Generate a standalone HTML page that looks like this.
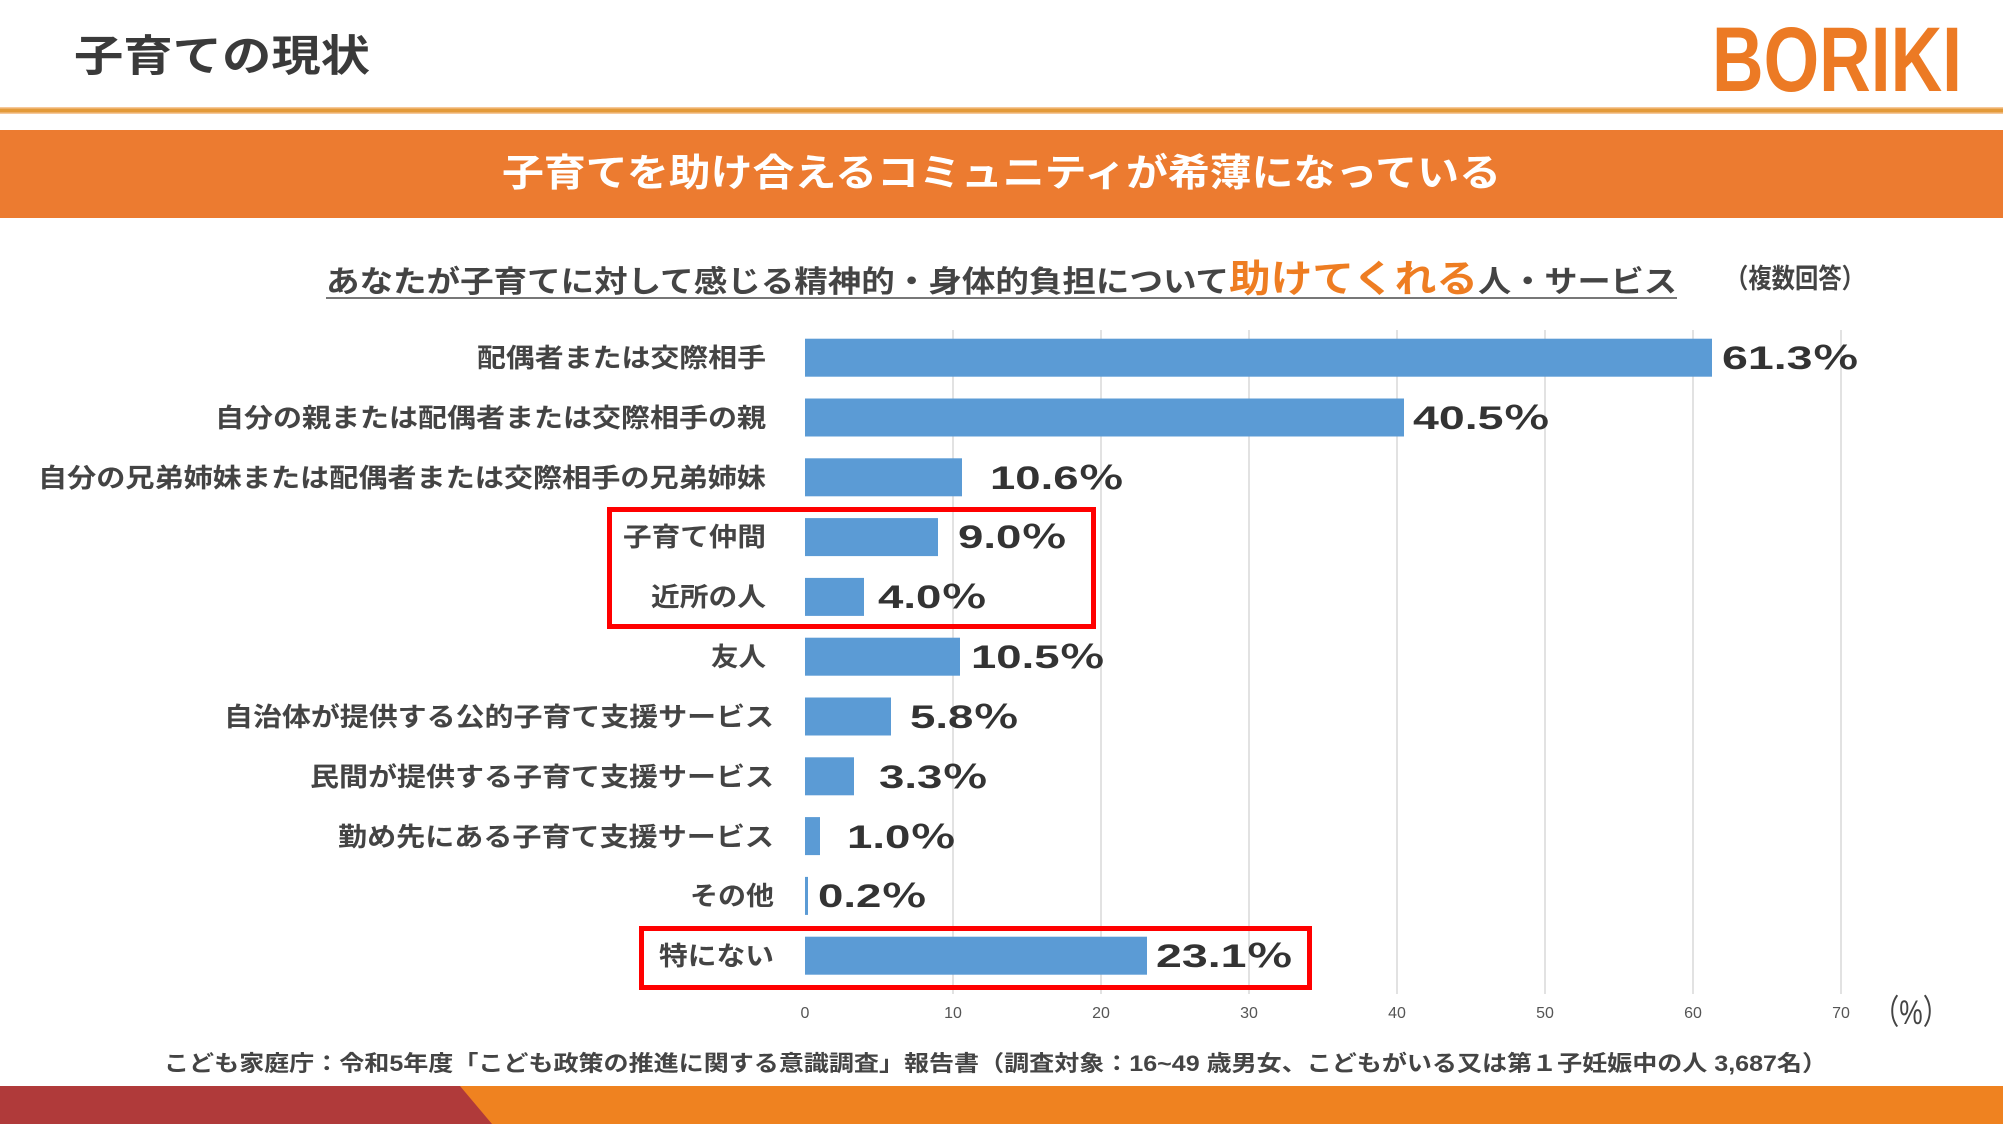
<!DOCTYPE html>
<html><head><meta charset="utf-8"><style>
html,body{margin:0;padding:0;background:#fff;}
svg{display:block;}
text{font-family:"Liberation Sans","Noto Sans CJK JP",sans-serif;}
</style></head><body>
<svg width="2003" height="1124" viewBox="0 0 2003 1124" xmlns="http://www.w3.org/2000/svg">
<rect width="2003" height="1124" fill="#fff"/>
<!-- title -->
<text x="74" y="71" font-size="43" font-weight="bold" fill="#3a3a3a" textLength="296" lengthAdjust="spacingAndGlyphs">子育ての現状</text>
<!-- logo -->
<text x="1712" y="91" font-size="92" font-weight="bold" fill="#ec7a24" textLength="250" lengthAdjust="spacingAndGlyphs">BORIKI</text>
<!-- lines -->
<rect x="0" y="107" width="2003" height="7" fill="#f6c89a"/>
<rect x="0" y="108.5" width="2003" height="4" fill="#e39a3a"/>
<rect x="0" y="130" width="2003" height="88" fill="#ec7b30"/>
<text x="502" y="186" font-size="38" font-weight="bold" fill="#fff" textLength="999" lengthAdjust="spacingAndGlyphs">子育てを助け合えるコミュニティが希薄になっている</text>
<!-- subtitle -->
<text x="326" y="292" font-size="30" font-weight="bold" fill="#444" textLength="903" lengthAdjust="spacingAndGlyphs">あなたが子育てに対して感じる精神的・身体的負担について</text>
<text x="1229" y="292" font-size="38" font-weight="bold" fill="#ee7d22" textLength="249" lengthAdjust="spacingAndGlyphs">助けてくれる</text>
<text x="1478" y="292" font-size="30" font-weight="bold" fill="#444" textLength="199" lengthAdjust="spacingAndGlyphs">人・サービス</text>
<rect x="326" y="297" width="1351" height="2" fill="#777"/>
<text x="1725" y="288" font-size="27" font-weight="bold" fill="#444" textLength="140" lengthAdjust="spacingAndGlyphs">（複数回答）</text>
<!-- gridlines -->
<g stroke="#d9d9d9" stroke-width="1.5">
<line x1="953" y1="330" x2="953" y2="994"/>
<line x1="1101" y1="330" x2="1101" y2="994"/>
<line x1="1249" y1="330" x2="1249" y2="994"/>
<line x1="1397" y1="330" x2="1397" y2="994"/>
<line x1="1545" y1="330" x2="1545" y2="994"/>
<line x1="1693" y1="330" x2="1693" y2="994"/>
<line x1="1841" y1="330" x2="1841" y2="994"/>
</g>
<!-- bars -->
<g fill="#5b9bd5">
<rect x="805" y="338.7" width="907" height="38"/>
<rect x="805" y="398.5" width="599" height="38"/>
<rect x="805" y="458.3" width="157" height="38"/>
<rect x="805" y="518.1" width="133" height="38"/>
<rect x="805" y="577.9" width="59" height="38"/>
<rect x="805" y="637.7" width="155" height="38"/>
<rect x="805" y="697.5" width="86" height="38"/>
<rect x="805" y="757.3" width="49" height="38"/>
<rect x="805" y="817.1" width="15" height="38"/>
<rect x="805" y="876.9" width="3" height="38"/>
<rect x="805" y="936.7" width="342" height="38"/>
</g>
<!-- category labels -->
<g font-size="26" font-weight="bold" fill="#444" text-anchor="end" lengthAdjust="spacingAndGlyphs">
<text x="766" y="367" textLength="289" lengthAdjust="spacingAndGlyphs">配偶者または交際相手</text>
<text x="766" y="427" textLength="551" lengthAdjust="spacingAndGlyphs">自分の親または配偶者または交際相手の親</text>
<text x="766" y="487" textLength="728" lengthAdjust="spacingAndGlyphs">自分の兄弟姉妹または配偶者または交際相手の兄弟姉妹</text>
<text x="766" y="546" textLength="143" lengthAdjust="spacingAndGlyphs">子育て仲間</text>
<text x="766" y="606" textLength="115" lengthAdjust="spacingAndGlyphs">近所の人</text>
<text x="766" y="666" textLength="55" lengthAdjust="spacingAndGlyphs">友人</text>
<text x="774" y="726" textLength="550" lengthAdjust="spacingAndGlyphs">自治体が提供する公的子育て支援サービス</text>
<text x="774" y="786" textLength="464" lengthAdjust="spacingAndGlyphs">民間が提供する子育て支援サービス</text>
<text x="774" y="846" textLength="436" lengthAdjust="spacingAndGlyphs">勤め先にある子育て支援サービス</text>
<text x="774" y="905" textLength="84" lengthAdjust="spacingAndGlyphs">その他</text>
<text x="774" y="965" textLength="115" lengthAdjust="spacingAndGlyphs">特にない</text>
</g>
<!-- values -->
<g font-size="32" font-weight="bold" fill="#333">
<text x="1722" y="369" textLength="137" lengthAdjust="spacingAndGlyphs">61.3％</text>
<text x="1413" y="429" textLength="137" lengthAdjust="spacingAndGlyphs">40.5％</text>
<text x="990" y="489" textLength="134" lengthAdjust="spacingAndGlyphs">10.6％</text>
<text x="958" y="548" textLength="109" lengthAdjust="spacingAndGlyphs">9.0％</text>
<text x="878" y="608" textLength="109" lengthAdjust="spacingAndGlyphs">4.0％</text>
<text x="971" y="668" textLength="134" lengthAdjust="spacingAndGlyphs">10.5％</text>
<text x="910" y="728" textLength="109" lengthAdjust="spacingAndGlyphs">5.8％</text>
<text x="879" y="788" textLength="109" lengthAdjust="spacingAndGlyphs">3.3％</text>
<text x="847" y="848" textLength="109" lengthAdjust="spacingAndGlyphs">1.0％</text>
<text x="818" y="907" textLength="109" lengthAdjust="spacingAndGlyphs">0.2％</text>
<text x="1156" y="967" textLength="137" lengthAdjust="spacingAndGlyphs">23.1％</text>
</g>
<!-- red boxes -->
<rect x="609.5" y="509.5" width="484" height="117" fill="none" stroke="#f00" stroke-width="5"/>
<rect x="641.5" y="928.5" width="668" height="59" fill="none" stroke="#f00" stroke-width="5"/>
<!-- axis ticks -->
<g font-size="16" fill="#555" text-anchor="middle">
<text x="805" y="1018">0</text>
<text x="953" y="1018">10</text>
<text x="1101" y="1018">20</text>
<text x="1249" y="1018">30</text>
<text x="1397" y="1018">40</text>
<text x="1545" y="1018">50</text>
<text x="1693" y="1018">60</text>
<text x="1841" y="1018">70</text>
</g>
<text x="1873" y="1024" font-size="34" fill="#444" textLength="76" lengthAdjust="spacingAndGlyphs">（%）</text>
<!-- footnote -->
<text x="164" y="1071" font-size="22" font-weight="bold" fill="#444" textLength="1663" lengthAdjust="spacingAndGlyphs">こども家庭庁：令和5年度「こども政策の推進に関する意識調査」報告書（調査対象：16~49 歳男女、こどもがいる又は第１子妊娠中の人 3,687名）</text>
<!-- bottom band -->
<rect x="0" y="1086" width="2003" height="38" fill="#ef8220"/>
<polygon points="0,1086 460,1086 492,1124 0,1124" fill="#b03a3a"/>
</svg>
</body></html>
